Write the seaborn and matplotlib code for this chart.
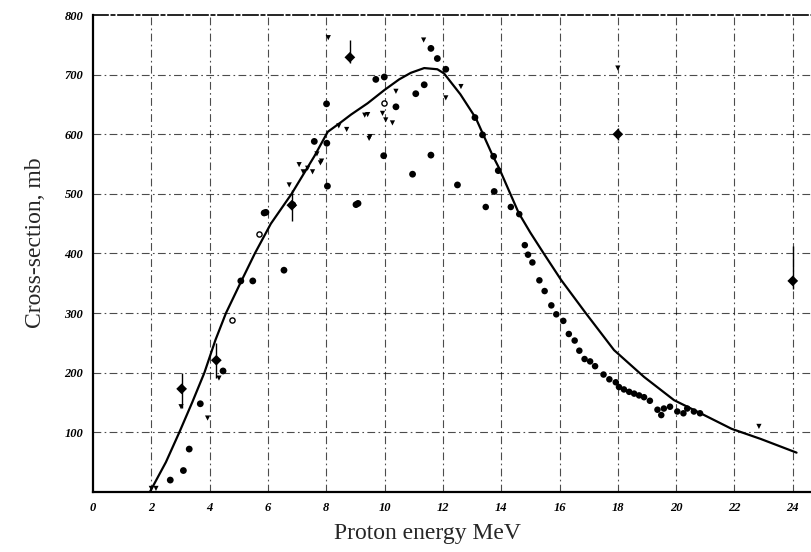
import matplotlib
matplotlib.use("Agg")
import matplotlib.pyplot as plt
import numpy as np
import pandas as pd
import seaborn as sns

# Smooth theoretical curve
curve_e = [1.95, 2.5, 2.96, 3.4, 3.82, 4.2, 4.56, 5.05, 5.55, 6.1, 6.81, 7.59,
           8.05, 8.5, 8.85, 9.42, 9.99, 10.5, 10.9, 11.36, 11.81, 12.04, 12.6,
           13.13, 13.7, 13.93, 14.6, 15.0, 15.46, 16.05, 16.9, 17.87, 18.9,
           19.93, 20.84, 21.9, 22.9, 23.81, 24.13]
curve_xs = [0, 50, 100, 150, 200, 255, 300, 350, 400, 450, 500, 563,
            604, 620, 633, 652, 674, 692, 703, 711, 709, 702, 667,
            627, 565, 543, 468, 435, 400, 356, 300, 238, 193,
            154, 132, 106, 89, 72, 66]

# Descending run of measured points
run_e = [13.47, 14.33, 14.62, 14.81, 14.92, 15.07, 15.31, 15.49, 15.72, 15.89,
         16.13, 16.32, 16.52, 16.68, 16.86, 17.05, 17.22, 17.51, 17.71, 17.93,
         18.04, 18.21, 18.39, 18.56, 18.73, 18.9, 19.1, 19.36, 19.49, 19.58,
         19.79, 20.04, 20.25, 20.38, 20.61, 20.82]
run_xs = [478, 478, 466, 414, 398, 385, 355, 337, 313, 298,
          287, 265, 254, 237, 223, 219, 211, 197, 189, 184,
          176, 172, 168, 165, 162, 159, 153, 138, 129, 140,
          143, 135, 132, 140, 135, 132]

# Other filled points
dot_e = [2.65, 3.10, 3.30, 3.68, 4.46, 5.07, 5.48, 5.87, 5.93, 6.55, 6.85, 8.04,
         8.01, 9.02, 9.09, 9.97, 10.96, 11.36, 11.59, 11.59, 11.81, 12.1, 12.5,
         13.1, 13.36, 13.74, 13.76, 13.9, 7.59, 8.02, 9.70, 9.99, 10.39, 11.07]
dot_xs = [20, 36, 72, 148, 203, 354, 354, 468, 469, 372, 482, 513,
          651, 482, 484, 564, 533, 683, 565, 744, 727, 709, 515,
          628, 599, 563, 504, 539, 588, 585, 692, 696, 646, 668]

# Small marks (triangles, ticks)
small_e = [2.0, 2.16, 3.02, 3.93, 4.32, 6.73, 7.07, 7.21, 7.36, 7.53, 7.68, 7.8,
           7.84, 8.07, 8.43, 8.7, 9.32, 9.42, 9.47, 9.5, 9.93, 10.04, 10.27,
           10.39, 11.34, 12.1, 12.62, 18.0, 22.84]
small_xs = [6, 6, 143, 124, 191, 515, 549, 537, 543, 537, 567, 552,
            555, 762, 614, 608, 632, 633, 593, 596, 635, 624, 619,
            672, 758, 661, 680, 711, 110]

# Open circles
open_e = [4.77, 5.7, 9.99]
open_xs = [289, 433, 652]

# Points with error bars
err_e = [3.04, 4.23, 6.82, 8.81, 18.0, 24.0]
err_xs = [173, 221, 481, 729, 600, 354]
err_lo = [141, 191, 455, 720, 590, 340]
err_hi = [200, 250, 507, 758, 610, 413]

x_ticks = list(range(0, 25, 2))
y_ticks = list(range(100, 801, 100))

sns.set_theme(style="white")
plt.rcParams["font.family"] = ["Liberation Serif", "DejaVu Serif"]

fig = plt.figure(figsize=(8.12, 5.52), dpi=100)
ax = fig.add_axes([93 / 812, 60 / 552, 719 / 812, 477 / 552])

grid_style = dict(color="black", linewidth=0.8, linestyle=(0, (7, 3, 1.5, 3)), alpha=0.7)
for xv in x_ticks[1:]:
    ax.axvline(xv, **grid_style, zorder=0)
for yv in y_ticks[:-1]:
    ax.axhline(yv, **grid_style, zorder=0)

sns.lineplot(x=curve_e, y=curve_xs, ax=ax, color="black", linewidth=1.6, sort=False)

sns.scatterplot(x=run_e, y=run_xs, ax=ax, color="black", s=22, marker="o",
                edgecolor="none")
sns.scatterplot(x=dot_e, y=dot_xs, ax=ax, color="black", s=24, marker="o",
                edgecolor="none")
sns.scatterplot(x=small_e, y=small_xs, ax=ax, color="black", s=14, marker="v",
                edgecolor="none")
sns.scatterplot(x=open_e, y=open_xs, ax=ax, facecolor="white", edgecolor="black",
                s=14, marker="o", linewidth=1)

err = pd.DataFrame({"e": err_e, "xs": err_xs, "lo": err_lo, "hi": err_hi})
ax.vlines(err["e"], err["lo"], err["hi"], color="black", linewidth=1)
sns.scatterplot(data=err, x="e", y="xs", ax=ax, color="black", s=30, marker="D",
                edgecolor="none")

ax.set_xlim(0, 24.66)
ax.set_ylim(0, 800)
ax.set_xticks(x_ticks)
ax.set_yticks(y_ticks)
ax.set_xticklabels([str(v) for v in x_ticks], fontstyle="italic", fontweight="bold",
                   fontsize=9)
ax.set_yticklabels([str(v) for v in y_ticks], fontstyle="italic", fontweight="bold",
                   fontsize=9)
ax.tick_params(length=0, pad=7, colors="black")
ax.set_xlabel("")
ax.set_ylabel("")
fig.text(427 / 812, (552 - 539) / 552, "Proton energy MeV", fontsize=17,
         ha="center", va="baseline")
fig.text(36 / 812, (552 - 243) / 552, "Cross-section, mb", fontsize=17,
         ha="center", va="center", rotation=90)

for side in ["left", "bottom"]:
    ax.spines[side].set_color("black")
    ax.spines[side].set_linewidth(1.6)
ax.spines["top"].set_color("black")
ax.spines["top"].set_linewidth(1.2)
ax.spines["top"].set_linestyle((0, (9, 2, 2, 2)))
ax.spines["right"].set_visible(False)

fig.savefig("out.png", dpi=100)
